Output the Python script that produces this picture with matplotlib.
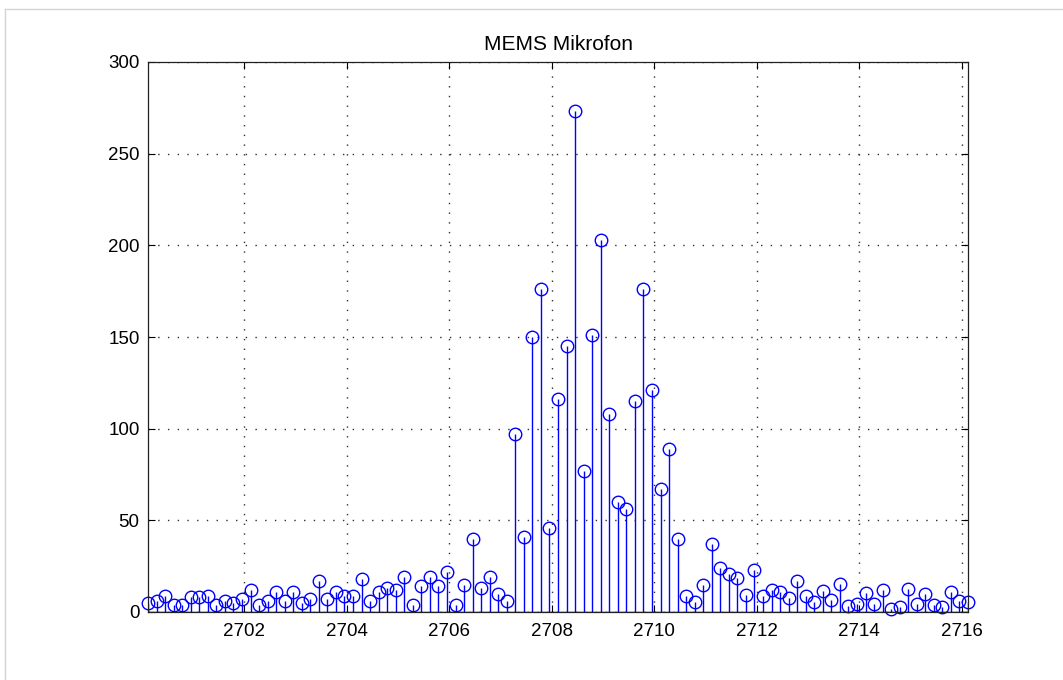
import numpy as np
import matplotlib
matplotlib.use("Agg")
import matplotlib.pyplot as plt
from matplotlib.lines import Line2D

plt.rcParams['font.family'] = ['Liberation Sans', 'DejaVu Sans']

# Spectrum magnitude around the tone, one bin every 1/6 Hz
f_start = 2700.12
f_step = 1.0 / 6.0
magnitude = [
    5, 6, 9, 4, 4, 8, 8, 9, 4, 6,
    5, 7, 12, 4, 6, 11, 6, 11, 5, 7,
    17, 7, 11, 9, 9, 18, 6, 11, 13, 12,
    19, 4, 14, 19, 14, 22, 4, 15, 40, 13,
    19, 10, 6,
    97, 41, 150, 176, 46, 116, 145, 273, 77, 151,
    203, 108, 60, 56, 115, 176, 121, 67, 89, 40,
    9, 5.5, 15, 37, 24, 21, 18.5, 9.5, 23, 8.5,
    12, 11, 7.5, 17, 8.5, 5.5, 11.5, 6.4, 15.5, 3.3,
    4.6, 10.6, 4.6, 11.8, 1.8, 2.7, 12.7, 4.6, 10, 4,
    2.7, 11, 5.8, 5.5,
]
freq = f_start + f_step * np.arange(len(magnitude))

x_ticks = [2702, 2704, 2706, 2708, 2710, 2712, 2714, 2716]
y_ticks = [0, 50, 100, 150, 200, 250, 300]

fig = plt.figure(figsize=(10.63, 6.8), dpi=100)
ax = fig.add_axes([148 / 1063, 1 - 612 / 680, 820 / 1063, 550 / 680])

markerline, stemlines, baseline = ax.stem(freq, magnitude)
plt.setp(stemlines, color='#0000ff', linewidth=1.0)
plt.setp(markerline, marker='o', markersize=9, markerfacecolor='none',
         markeredgecolor='#0000ff', markeredgewidth=1.0, clip_on=False)
plt.setp(baseline, color='black', linewidth=1.0)

ax.set_xlim(freq[0], freq[-1])
ax.set_ylim(0, 300)
ax.set_xticks(x_ticks)
ax.set_yticks(y_ticks)
ax.tick_params(direction='in', length=5, width=0.8, top=True, right=True,
               labelsize=13.5, colors='black')
ax.tick_params(axis='x', pad=8)
ax.tick_params(axis='y', pad=6)
ax.grid(True, color='#303030', linestyle=(0, (1, 6)), linewidth=1.0)
for s in ax.spines.values():
    s.set_linewidth(0.9)
    s.set_color('#202020')

ax.set_title('MEMS Mikrofon', fontsize=15, pad=9)

# thin window border along the top and left edges
fig.add_artist(Line2D([5 / 1063, 1], [1 - 9 / 680, 1 - 9 / 680],
                      transform=fig.transFigure, color='#d4d4d4', linewidth=1))
fig.add_artist(Line2D([5 / 1063, 5 / 1063], [0, 1 - 9 / 680],
                      transform=fig.transFigure, color='#d4d4d4', linewidth=1))

fig.savefig('out.png', dpi=100, facecolor='white')
